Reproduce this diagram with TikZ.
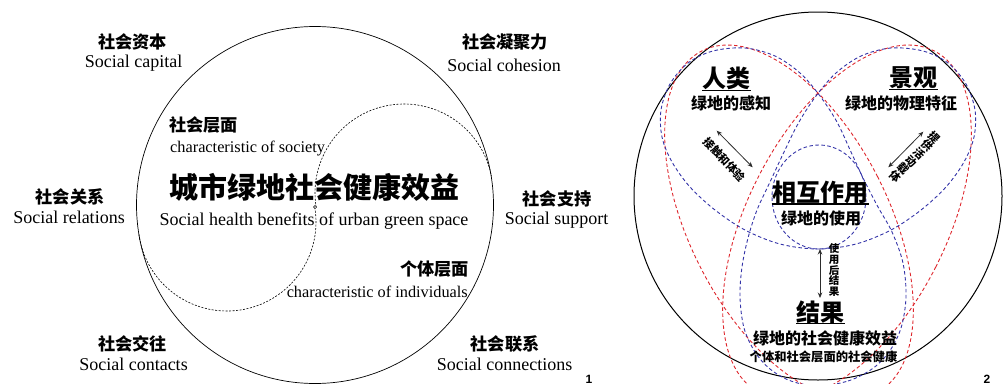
\documentclass[tikz,border=0pt]{standalone}
\usepackage{fontspec}
\setmainfont{Liberation Serif}
\newfontfamily\cjk{Noto Sans CJK SC}
\newfontfamily\numfont{Liberation Sans}
\usetikzlibrary{arrows.meta}
\definecolor{dred}{RGB}{222,38,44}
\definecolor{dblue}{RGB}{52,52,168}
\definecolor{agray}{RGB}{45,45,45}
\begin{document}
\begin{tikzpicture}[x=1pt,y=-1pt,
  zh/.style={font=\cjk\bfseries\fontsize{17.2}{17.2}\selectfont, inner sep=0pt, anchor=base},
  zhmain/.style={font=\cjk\bfseries\fontsize{29}{29}\selectfont, inner sep=0pt, anchor=base},
  en/.style={font=\fontsize{18}{18}\selectfont, inner sep=0pt, anchor=base},
  ensm/.style={font=\fontsize{16.3}{16.3}\selectfont, inner sep=0pt, anchor=base},
  num/.style={font=\numfont\bfseries\fontsize{12}{12}\selectfont, inner sep=0pt, anchor=base},
  zhbig/.style={font=\cjk\bfseries\fontsize{24}{24}\selectfont, inner sep=0pt, anchor=base},
  zhmid/.style={font=\cjk\bfseries\fontsize{16}{16}\selectfont, inner sep=0pt, anchor=base},
  zhsm/.style={font=\cjk\bfseries\fontsize{12.3}{12.3}\selectfont, inner sep=0pt, anchor=base},
  zhrot/.style={font=\cjk\bfseries\fontsize{11}{11.2}\selectfont, inner sep=0pt, align=center},
  uline/.style={line width=1.4pt, black},
  solidc/.style={line width=0.7pt, black},
  ldash/.style={line width=0.6pt, black, dash pattern=on 2pt off 1.5pt},
  reddash/.style={line width=0.9pt, dred, dash pattern=on 3.5pt off 2.5pt},
  bluedash/.style={line width=0.9pt, dblue, dash pattern=on 3.5pt off 2.5pt},
  darr/.style={line width=0.8pt, agray, {Stealth[length=5.5pt,width=4.5pt]}-{Stealth[length=5.5pt,width=4.5pt]}}
]
\useasboundingbox (0,0) rectangle (1003,383);

% ---------------- panel 1 ----------------
\draw[solidc] (315,205) circle[radius=178.5pt];
% yin-yang S-curve: lower half of the left circle, upper half of the right circle
\draw[ldash] (227,222) ++(172:89) arc[start angle=172, end angle=-9.7, radius=89];
\draw[ldash] (404,193) ++(170.5:89) arc[start angle=170.5, end angle=349, radius=89];
\node[draw, circle, fill=white, inner sep=0pt, minimum size=3.2pt, line width=0.5pt] (ctr) at (315,207) {};

\node[zh] (l1z) at (132.5,48) {社会资本};
\node[en] (l1e) at (133.5,67) {Social capital};
\node[zh] (l2z) at (505,48) {社会凝聚力};
\node[en] (l2e) at (504,71) {Social cohesion};
\node[zh] (l3z) at (70,203) {社会关系};
\node[en] (l3e) at (69,223) {Social relations};
\node[zh] (l4z) at (557,205) {社会支持};
\node[en] (l4e) at (556.5,224) {Social support};
\node[zh] (l5z) at (132.5,350) {社会交往};
\node[en] (l5e) at (133.5,370) {Social contacts};
\node[zh] (l6z) at (505,350) {社会联系};
\node[en] (l6e) at (504.5,370) {Social connections};
\node[zh, anchor=base west] (socz) at (169,131.5) {社会层面};
\node[ensm, anchor=base west] (soce) at (170,152) {characteristic of society};
\node[zhmain] (mainz) at (314,198.5) {城市绿地社会健康效益};
\node[en] (maine) at (314,225) {Social health benefits of urban green space};
\node[zh, anchor=base east] (indz) at (469,275) {个体层面};
\node[ensm, anchor=base east] (inde) at (468,297) {characteristic of individuals};
\node[num] (n1) at (589,383) {1};

% ---------------- panel 2 ----------------
\draw[line width=1pt, black] (818,196) circle[radius=184pt];
\draw[reddash, rotate around={27:(789,222)}] (789,222) ellipse[x radius=99.5pt, y radius=192pt];
\draw[reddash, rotate around={-27:(847,222)}] (847,222) ellipse[x radius=99.5pt, y radius=192pt];
\draw[bluedash] plot[smooth cycle, tension=0.55] coordinates {
 (818,386) (848,381) (872,369) (889,352) (901,328) (906,297) (903,263)
 (892,232) (878,207) (864,180) (851,152) (837,122) (820,96)
 (800,73) (775,56) (745,48) (713,51) (688,63) (670,84) (661,110)
 (662,137) (672,162) (690,187) (715,210) (745,230) (780,244) (818,249)
 (856,244) (891,230) (921,210) (946,187) (964,162) (974,137) (975,110)
 (966,84) (948,63) (923,51) (891,48) (861,56) (836,73) (816,96)
 (799,122) (784,152) (770,182) (757,210) (748,238) (742,267) (740,297)
 (744,328) (755,352) (770,369) (791,381)};
\draw[bluedash] (819,197) ellipse[x radius=47pt, y radius=52pt];

\node[zhbig] (ren) at (726.5,87.6) {人类};
\draw[uline] ([yshift=-3pt]ren.base west) -- ([yshift=-3pt]ren.base east);
\node[zhmid] (renb) at (731,109.5) {绿地的感知};
\node[zhbig] (jg) at (913.5,86.6) {景观};
\draw[uline] ([yshift=-3pt]jg.base west) -- ([yshift=-3pt]jg.base east);
\node[zhmid] (jgb) at (901,109.5) {绿地的物理特征};
\node[zhbig] (xh) at (820.5,201.5) {相互作用};
\draw[uline] ([yshift=-2.5pt]xh.base west) -- ([yshift=-2.5pt]xh.base east);
\node[zhmid] (xhb) at (821,224) {绿地的使用};
\node[zhbig] (jgu) at (820.5,321) {结果};
\draw[uline] ([yshift=-2.5pt]jgu.base west) -- ([yshift=-2.5pt]jgu.base east);
\node[zhmid] (jgub) at (825,344.5) {绿地的社会健康效益};
\node[zhsm] (jguc) at (823.5,361.6) {个体和社会层面的社会健康};

\node[zhrot, rotate=-47] (jc) at (724.5,159.5) {接触和体验};
\node[zhrot, rotate=-45] (tg) at (915,157) {提\\供\\活\\动\\载\\体};
\node[zhrot, font=\cjk\bfseries\fontsize{10.5}{10.8}\selectfont] (syh) at (834,270) {使\\用\\后\\结\\果};

\coordinate (a1s) at (716.7,130.7); \coordinate (a1e) at (752.7,167.3);
\coordinate (a2s) at (923.3,131.7); \coordinate (a2e) at (888.3,167.3);
\coordinate (a3s) at (820,249); \coordinate (a3e) at (820,298);
\draw[darr] (a1s) -- (a1e);
\draw[darr] (a2s) -- (a2e);
\draw[darr] (a3s) -- (a3e);

\node[num] (n2) at (987,383) {2};
\end{tikzpicture}
\end{document}
